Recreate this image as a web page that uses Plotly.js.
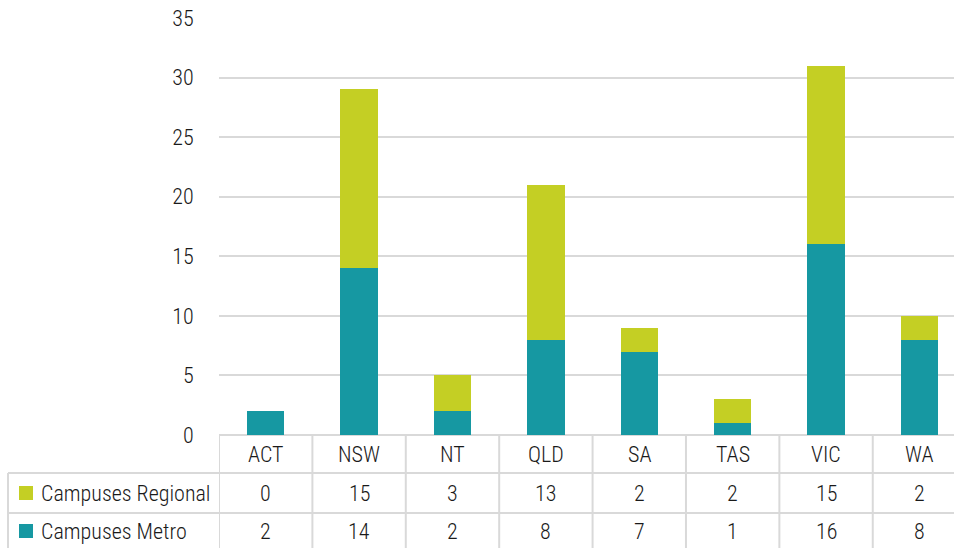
<!DOCTYPE html>
<html><head><meta charset="utf-8">
<script src="https://cdn.plot.ly/plotly-3.0.1.min.js"></script>
<style>html,body{margin:0;padding:0;background:#fff}#chart{width:954px;height:548px}</style>
</head><body><div id="chart"></div>
<script>
const categories = ["ACT","NSW","NT","QLD","SA","TAS","VIC","WA"];
const regional = [0,15,3,13,2,2,15,2];
const metro = [2,14,2,8,7,1,16,8];
const seriesNames = ["Campuses Regional","Campuses Metro"];
const colors = {regional:"#c4cf24", metro:"#1698a2"};

const FONT = "Roboto Condensed, Liberation Sans Narrow, DejaVu Sans Condensed, Roboto, sans-serif";
const W8 = 300;
const txt = "#1a1a1a";
const grid = "#d9d9d9";
const H = 548, T = 18, B = 113, plotH = H - T - B;
const py = p => (H - B - p) / plotH; // pixel y -> paper y
const fnt = {family:FONT, size:22, color:txt, weight:W8};

const traces = [
  {type:"bar", name:seriesNames[1], x:categories, y:metro, marker:{color:colors.metro}, hoverinfo:"x+y"},
  {type:"bar", name:seriesNames[0], x:categories, y:regional, marker:{color:colors.regional}, hoverinfo:"x+y"}
];

const shapes = [];
const annotations = [];
const rowY = [473, 513];
const bottom = 548;
rowY.forEach(y => shapes.push({type:"line", xref:"paper", yref:"paper", x0:-211/735, x1:1, y0:py(y), y1:py(y), line:{color:grid, width:2}}));
shapes.push({type:"line", xref:"paper", yref:"paper", x0:-211/735, x1:-211/735, y0:py(rowY[0]), y1:py(bottom), line:{color:grid, width:2}});
for (let i = 0; i <= categories.length; i++) {
  shapes.push({type:"line", xref:"x", yref:"paper", x0:i-0.5, x1:i-0.5, y0:py(435), y1:py(bottom), line:{color:grid, width:2}});
}
categories.forEach((c, i) => {
  annotations.push({xref:"x", yref:"paper", x:c, y:py(454), text:c, showarrow:false, font:fnt, yanchor:"middle"});
  annotations.push({xref:"x", yref:"paper", x:c, y:py(493), text:String(regional[i]), showarrow:false, font:fnt, yanchor:"middle"});
  annotations.push({xref:"x", yref:"paper", x:c, y:py(531), text:String(metro[i]), showarrow:false, font:fnt, yanchor:"middle"});
});
const keyX0 = -200/735, keyX1 = -186/735;
[[493, colors.regional, seriesNames[0]], [531, colors.metro, seriesNames[1]]].forEach(([y, col, name]) => {
  shapes.push({type:"rect", xref:"paper", yref:"paper", x0:keyX0, x1:keyX1, y0:py(y+7), y1:py(y-7), fillcolor:col, line:{width:0}});
  annotations.push({xref:"paper", yref:"paper", x:-180/735, y:py(y), text:name, xanchor:"left", yanchor:"middle", showarrow:false, font:fnt});
});

const layout = {
  width:954, height:H,
  margin:{l:219, r:0, t:T, b:B, pad:0},
  paper_bgcolor:"#fff", plot_bgcolor:"#fff",
  barmode:"stack", bargap:0.6,
  showlegend:false,
  font:fnt,
  xaxis:{type:"category", range:[-0.5, 7.37], showticklabels:false, showgrid:false, zeroline:false, showline:false, ticks:"", fixedrange:true},
  yaxis:{range:[0,35], dtick:5, showgrid:true, gridcolor:grid, gridwidth:2, zeroline:true, zerolinecolor:grid, zerolinewidth:2, showline:false, ticks:"outside", ticklen:20, tickcolor:"rgba(0,0,0,0)", tickfont:fnt},
  shapes, annotations
};
Plotly.newPlot("chart", traces, layout, {displayModeBar:false, staticPlot:true});
</script></body></html>
